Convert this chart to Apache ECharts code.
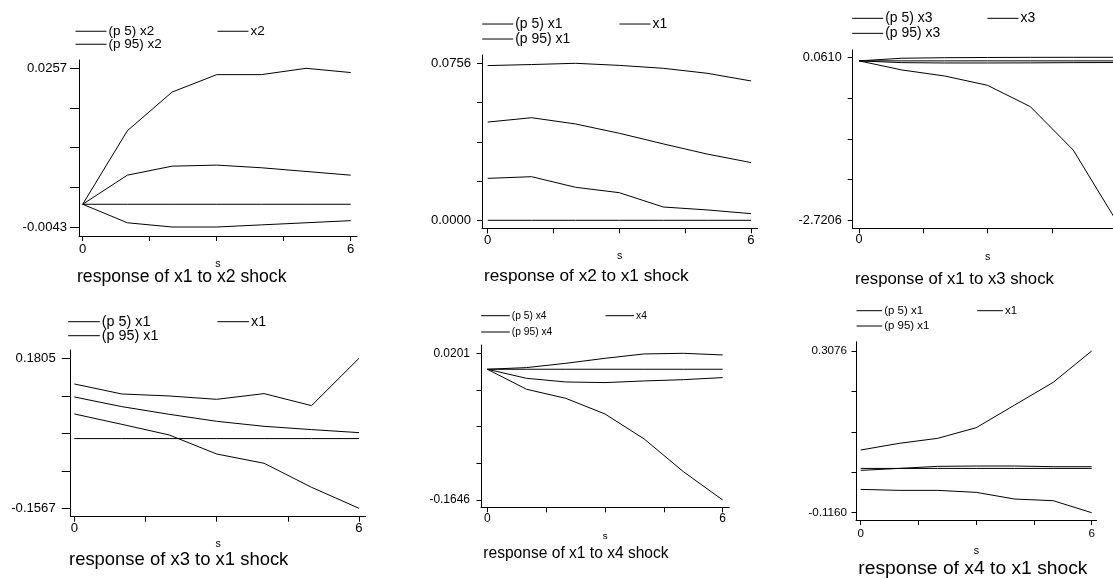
<!DOCTYPE html>
<html>
<head>
<meta charset="utf-8">
<script src="https://cdn.jsdelivr.net/npm/echarts@6/dist/echarts.min.js"></script>
<style>
  html, body { margin: 0; padding: 0; background: #fff; }
  #chart { width: 1113px; height: 579px; }
</style>
</head>
<body>
<div id="chart"></div>
<script>
  // horizon steps and axis marks
  const steps = [0, 1, 2, 3, 4, 5, 6];
  const xTicks = [0, 1.5, 3, 4.5, 6];
  const xLabels = [0, 6];

  // response of x1 to x2 shock
  const x1x2_p95 = [0, 0.0139, 0.0212, 0.0245, 0.0245, 0.0257, 0.0249];
  const x1x2_irf = [0, 0.0055, 0.0072, 0.0074, 0.0069, 0.0062, 0.0055];
  const x1x2_p5 = [0, -0.0035, -0.0043, -0.0043, -0.0039, -0.0035, -0.0031];
  const x1x2_ylab = [-0.0043, 0.0257];

  // response of x2 to x1 shock
  const x2x1_p95 = [0.0745, 0.0750, 0.0756, 0.0746, 0.0732, 0.0708, 0.0671];
  const x2x1_irf = [0.0473, 0.0494, 0.0464, 0.0419, 0.0368, 0.0319, 0.0278];
  const x2x1_p5 = [0.0202, 0.0210, 0.0159, 0.0133, 0.0064, 0.0050, 0.0032];
  const x2x1_ylab = [0.0000, 0.0756];

  // response of x1 to x3 shock
  const x1x3_p95 = [0, 0.045, 0.054, 0.058, 0.060, 0.061, 0.061];
  const x1x3_irf = [0, -0.030, -0.036, -0.036, -0.034, -0.030, -0.028];
  const x1x3_p5 = [0, -0.155, -0.258, -0.417, -0.781, -1.520, -2.7206];
  const x1x3_ylab = [-2.7206, 0.0610];

  // response of x3 to x1 shock
  const x3x1_p95 = [0.1228, 0.1003, 0.0958, 0.0883, 0.1011, 0.0741, 0.1805];
  const x3x1_irf = [0.0936, 0.0719, 0.0546, 0.0389, 0.0276, 0.0202, 0.0134];
  const x3x1_p5 = [0.0554, 0.0321, 0.0082, -0.0346, -0.0555, -0.1095, -0.1567];
  const x3x1_ylab = [-0.1567, 0.1805];

  // response of x1 to x4 shock
  const x1x4_p95 = [0, 0.0021, 0.0075, 0.0138, 0.0193, 0.0201, 0.0180];
  const x1x4_irf = [0, -0.0114, -0.0160, -0.0168, -0.0147, -0.0131, -0.0105];
  const x1x4_p5 = [0, -0.0252, -0.0366, -0.0563, -0.0878, -0.1290, -0.1646];
  const x1x4_ylab = [-0.1646, 0.0201];

  // response of x4 to x1 shock
  const x4x1_p95 = [0.0482, 0.0657, 0.0788, 0.1067, 0.1661, 0.2255, 0.3076];
  const x4x1_irf = [-0.0051, 0, 0.0054, 0.0063, 0.0063, 0.0045, 0.0045];
  const x4x1_p5 = [-0.0549, -0.0575, -0.0575, -0.0627, -0.0802, -0.0845, -0.1160];
  const x4x1_ylab = [-0.1160, 0.3076];

  const panels = [
    { title: 'response of x1 to x2 shock', imp: 'x2', p95: x1x2_p95, irf: x1x2_irf, p5: x1x2_p5, ylab: x1x2_ylab },
    { title: 'response of x2 to x1 shock', imp: 'x1', p95: x2x1_p95, irf: x2x1_irf, p5: x2x1_p5, ylab: x2x1_ylab },
    { title: 'response of x1 to x3 shock', imp: 'x3', p95: x1x3_p95, irf: x1x3_irf, p5: x1x3_p5, ylab: x1x3_ylab },
    { title: 'response of x3 to x1 shock', imp: 'x1', p95: x3x1_p95, irf: x3x1_irf, p5: x3x1_p5, ylab: x3x1_ylab },
    { title: 'response of x1 to x4 shock', imp: 'x4', p95: x1x4_p95, irf: x1x4_irf, p5: x1x4_p5, ylab: x1x4_ylab },
    { title: 'response of x4 to x1 shock', imp: 'x1', p95: x4x1_p95, irf: x4x1_irf, p5: x4x1_p5, ylab: x4x1_ylab }
  ];

  // pixel layout of each panel: axis box, data extent, text sizes (as narrow-font sizes)
  const layout = [
    { ax: 79, ab: 236, at: 60, ar: 357, x0: 82.7, x6: 350.7, yT: 68.3, yB: 227, fs: 16, tl: 9, lm: 12, xd: 13.3,
      tfs: 21.5, tx: 77, ty: 277, lfs: 16.5, lw: 31, lx: [75, 217], ly: [31, 44], sd: 29, nfs: 13 },
    { ax: 482, ab: 228.3, at: 55, ar: 757.5, x0: 487.7, x6: 751, yT: 63.3, yB: 220.3, fs: 16, tl: 5, lm: 11, xd: 11.7,
      tfs: 21, tx: 484, ty: 276, lfs: 17, lw: 31, lx: [481.7, 619], ly: [24, 39], sd: 28.7, nfs: 13 },
    { ax: 852.7, ab: 228.3, at: 50, ar: 1122.5, x0: 859, x6: 1116, yT: 57.3, yB: 220.3, fs: 15.5, tl: 5, lm: 11, xd: 11,
      tfs: 20.4, tx: 855, ty: 279.3, lfs: 17, lw: 31, lx: [851.7, 987], ly: [18.3, 33.3], sd: 29.7, nfs: 13 },
    { ax: 70.7, ab: 516.7, at: 350, ar: 365.7, x0: 74.3, x6: 359, yT: 358.3, yB: 508.3, fs: 16, tl: 9, lm: 15, xd: 11.3,
      tfs: 22.5, tx: 69, ty: 560, lfs: 17.5, lw: 31.6, lx: [67.7, 217], ly: [321.7, 335.7], sd: 28.3, nfs: 13 },
    { ax: 481, ab: 507.3, at: 345, ar: 729.3, x0: 487.3, x6: 722.7, yT: 353.3, yB: 500, fs: 14.6, tl: 4.5, lm: 11, xd: 11,
      tfs: 19, tx: 483.3, ty: 553.3, lfs: 12.5, lw: 28.6, lx: [480.7, 605], ly: [315.7, 332], sd: 29.4, nfs: 12 },
    { ax: 856, ab: 520, at: 341.7, ar: 1096.7, x0: 860.7, x6: 1091.7, yT: 351, yB: 512.7, fs: 14.2, tl: 4.5, lm: 9, xd: 13.3,
      tfs: 23.5, tx: 858.3, ty: 568.3, lfs: 14, lw: 25.7, lx: [856, 976.7], ly: [310.7, 326], sd: 31.7, nfs: 13 }
  ];

  // no narrow face installed: shrink Liberation Sans to the narrow font's width
  const FONT = "'Liberation Sans', Arial, sans-serif";
  const NARROW = 0.82;
  const black = '#000';

  const grids = [], xAxes = [], yAxes = [], series = [], titles = [], legends = [];

  panels.forEach((p, i) => {
    const L = layout[i];
    const fs = L.fs * NARROW, tfs = L.tfs * NARROW, lfs = L.lfs * NARROW, nfs = L.nfs * NARROW;
    const xPx = (L.x6 - L.x0) / 6;
    const xMin = -(L.x0 - L.ax) / xPx;
    const xMax = 6 + (L.ar - L.x6) / xPx;
    const lo = p.ylab[0], hi = p.ylab[1];
    const yPx = (L.yB - L.yT) / (hi - lo);
    const yMax = hi + (L.yT - L.at) / yPx;
    const yMin = lo - (L.ab - L.yB) / yPx;
    const yTicks = [0, 1, 2, 3, 4].map(k => lo + (hi - lo) * k / 4);

    grids.push({ left: L.ax, top: L.at, width: L.ar - L.ax, height: L.ab - L.at,
      containLabel: false, outerBoundsMode: 'none' });

    xAxes.push({
      type: 'value', gridIndex: i, min: xMin, max: xMax,
      name: 's', nameLocation: 'middle', nameGap: L.sd - 0.59 * nfs,
      nameTextStyle: { fontSize: nfs, color: black, fontFamily: FONT },
      axisLine: { show: true, onZero: false, lineStyle: { color: black, width: 1 } },
      axisTick: { show: true, length: 5, customValues: xTicks, lineStyle: { color: black } },
      axisLabel: { customValues: xLabels, margin: L.xd - fs / 2, fontSize: fs, color: black, fontFamily: FONT,
        formatter: v => String(v) },
      splitLine: { show: false }
    });

    yAxes.push({
      type: 'value', gridIndex: i, min: yMin, max: yMax,
      axisLine: { show: true, onZero: false, lineStyle: { color: black, width: 1 } },
      axisTick: { show: true, length: L.tl, customValues: yTicks, lineStyle: { color: black } },
      axisLabel: { customValues: p.ylab, margin: L.lm, fontSize: fs, color: black, fontFamily: FONT,
        formatter: v => v.toFixed(4) },
      splitLine: { show: false }
    });

    const names = ['(p 5) ' + p.imp, p.imp, '(p 95) ' + p.imp];
    const lines = [
      { name: 'zero', data: steps.map(s => [s, 0]) },
      { name: names[0], data: steps.map((s, k) => [s, p.p5[k]]) },
      { name: names[1], data: steps.map((s, k) => [s, p.irf[k]]) },
      { name: names[2], data: steps.map((s, k) => [s, p.p95[k]]) }
    ];
    lines.forEach(l => {
      series.push({
        type: 'line', name: l.name, xAxisIndex: i, yAxisIndex: i,
        data: l.data, symbol: 'none', showSymbol: false, silent: true,
        lineStyle: { color: black, width: 1 }, itemStyle: { color: black }
      });
    });

    titles.push({
      text: p.title, left: L.tx, top: L.ty - tfs / 2, padding: 0,
      textStyle: { fontSize: tfs, fontWeight: 'normal', color: black, fontFamily: FONT, lineHeight: tfs }
    });

    // legend: two keys on the first row, one on the second
    const spots = [[L.lx[0], L.ly[0]], [L.lx[1], L.ly[0]], [L.lx[0], L.ly[1]]];
    names.forEach((n, k) => {
      legends.push({
        data: [n], left: spots[k][0], top: spots[k][1] - lfs / 2, padding: 0,
        icon: 'line', itemWidth: L.lw, itemHeight: lfs, selectedMode: false,
        itemStyle: { color: black, borderColor: black, borderWidth: 1 },
        textStyle: { fontSize: lfs, color: black, fontFamily: FONT, lineHeight: lfs, padding: [0, 0, 0, -3] }
      });
    });
  });

  const chart = echarts.init(document.getElementById('chart'), null, { renderer: 'canvas' });
  chart.setOption({
    animation: false,
    backgroundColor: '#fff',
    title: titles,
    legend: legends,
    grid: grids,
    xAxis: xAxes,
    yAxis: yAxes,
    series: series
  });
</script>
</body>
</html>
